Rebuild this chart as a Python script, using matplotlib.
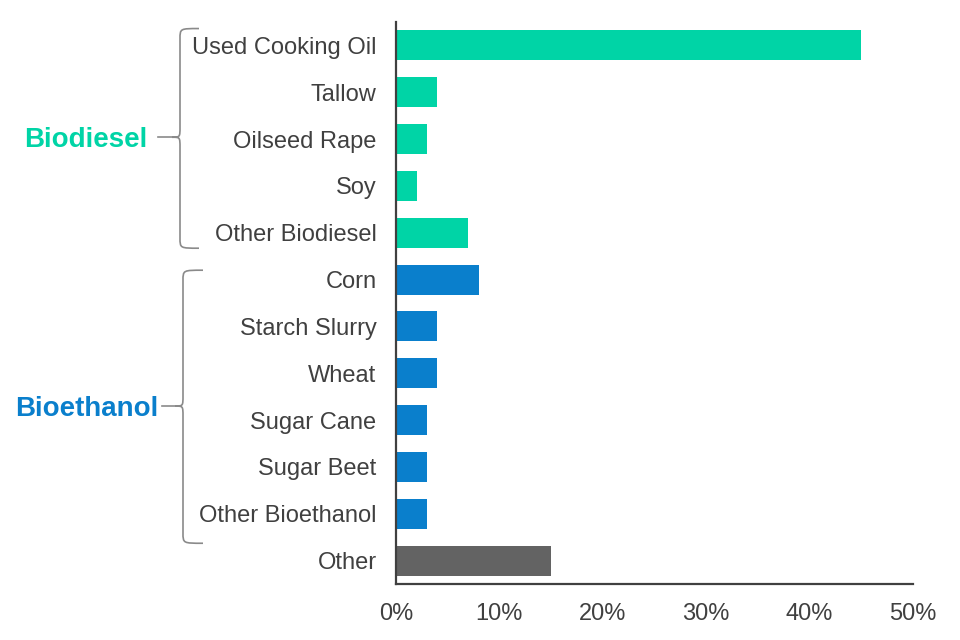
import matplotlib
matplotlib.use("Agg")
import matplotlib.pyplot as plt
from matplotlib.path import Path
from matplotlib.patches import PathPatch
from matplotlib.ticker import FuncFormatter
from matplotlib.transforms import blended_transform_factory

plt.rcParams["font.family"] = ["Liberation Sans", "DejaVu Sans"]

# 数据
categories = ["Used Cooking Oil", "Tallow", "Oilseed Rape", "Soy", "Other Biodiesel",
              "Corn", "Starch Slurry", "Wheat", "Sugar Cane", "Sugar Beet",
              "Other Bioethanol", "Other"]
shares = [45, 4, 3, 2, 7, 8, 4, 4, 3, 3, 3, 15]
groups = ["Biodiesel"] * 5 + ["Bioethanol"] * 6 + ["Other"]
x_ticks = [0, 10, 20, 30, 40, 50]

GREEN = "#00d4a6"
BLUE = "#0a7fcc"
GREY = "#636363"
TEXT = "#404040"
group_colors = {"Biodiesel": GREEN, "Bioethanol": BLUE, "Other": GREY}

W, H = 960, 640
fig = plt.figure(figsize=(W / 100, H / 100), dpi=100)
ax = fig.add_axes([396 / W, 1 - 584 / H, 517 / W, 562 / H])

ypos = list(range(len(categories)))
ax.barh(ypos, shares, height=0.64, color=[group_colors[g] for g in groups])

ax.set_ylim(len(categories) - 0.5, -0.5)
ax.set_xlim(0, 50)
ax.set_yticks(ypos)
ax.set_yticklabels(categories)
ax.set_xticks(x_ticks)
ax.xaxis.set_major_formatter(FuncFormatter(lambda v, p: f"{v:.0f}%"))
ax.tick_params(axis="y", length=0, pad=14, labelsize=17, labelcolor=TEXT)
ax.tick_params(axis="x", length=0, pad=14, labelsize=17, labelcolor=TEXT)
for s in ["top", "right"]:
    ax.spines[s].set_visible(False)
for s in ["left", "bottom"]:
    ax.spines[s].set_color(TEXT)
    ax.spines[s].set_linewidth(1.6)

# 括号（x 用像素/图宽，y 用数据行）
tr = blended_transform_factory(fig.transFigure, ax.transData)


def brace(x_v, x_tip, x_pt, x_end, y_top, y_mid, y_bot, r=0.22):
    xv, xt, xp, xe = x_v / W, x_tip / W, x_pt / W, x_end / W
    verts = [
        (xt, y_top), (xv, y_top), (xv, y_top), (xv, y_top + r),
        (xv, y_mid - r),
        (xv, y_mid), (xv, y_mid), (xp, y_mid),
        (xv, y_mid), (xv, y_mid), (xv, y_mid + r),
        (xv, y_bot - r),
        (xv, y_bot), (xv, y_bot), (xt, y_bot),
    ]
    codes = [Path.MOVETO, Path.CURVE4, Path.CURVE4, Path.CURVE4,
             Path.LINETO,
             Path.CURVE4, Path.CURVE4, Path.CURVE4,
             Path.CURVE4, Path.CURVE4, Path.CURVE4,
             Path.LINETO,
             Path.CURVE4, Path.CURVE4, Path.CURVE4]
    fig.add_artist(PathPatch(Path(verts, codes), transform=tr, fill=False,
                             edgecolor="#8a8a8a", linewidth=1.2))
    fig.add_artist(plt.Line2D([xe, xp], [y_mid, y_mid], transform=tr,
                              color="#8a8a8a", linewidth=1.2))


brace(180, 199, 172, 158, -0.36, 1.96, 4.33)
brace(183, 203, 175, 162, 4.8, 7.7, 10.63)

fig.text(147 / W, 2.03, "Biodiesel", transform=tr, ha="right", va="center",
         fontsize=20, fontweight="bold", color=GREEN)
fig.text(158 / W, 7.77, "Bioethanol", transform=tr, ha="right", va="center",
         fontsize=20, fontweight="bold", color=BLUE)

fig.savefig("out.png", dpi=100, facecolor="white")
plt.close(fig)
